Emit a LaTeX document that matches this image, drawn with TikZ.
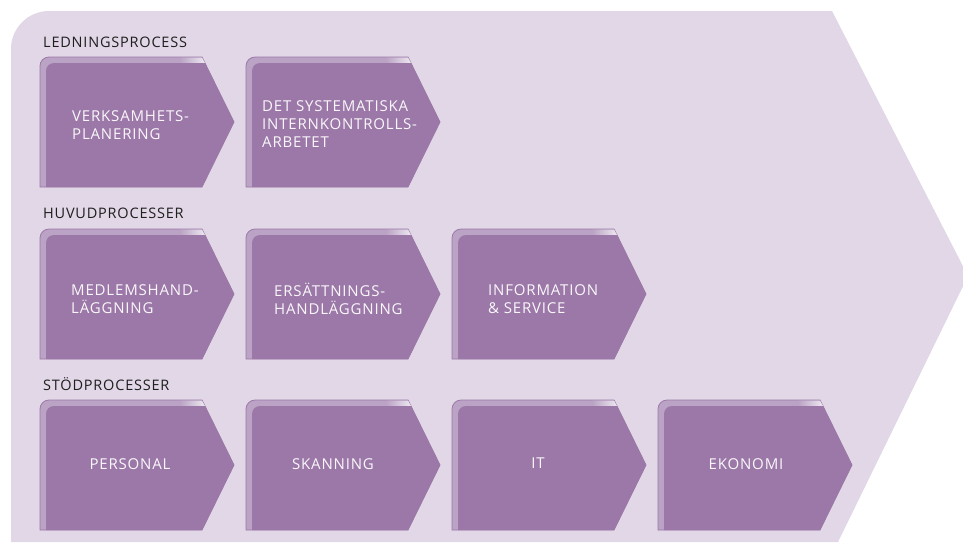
\documentclass[tikz,border=0pt]{standalone}
\usepackage{fontspec}
\setmainfont{Open Sans}[LetterSpace=5.5]
\definecolor{bg}{HTML}{E1D7E6}
\definecolor{box}{HTML}{9C78A8}
\definecolor{rim}{HTML}{BAA3C5}
\newcommand\chev[2]{%
	\filldraw[rim,draw=box,line width=0.8pt] (#1,#2+130) [rounded corners=9pt] -- (#1,#2) [sharp corners] -- (#1+162,#2) -- (#1+194,#2+65) -- (#1+162,#2+130) -- cycle;
	\shade[left color=rim,right color=rim!25!white] (#1+140,#2+0.6) -- (#1+162,#2+0.6) -- (#1+165,#2+6) -- (#1+140,#2+6) -- cycle;
	\fill[box] (#1+6,#2+130) [rounded corners=8pt] -- (#1+6,#2+6) [sharp corners] -- (#1+165,#2+6) -- (#1+194,#2+65) -- (#1+162,#2+130) -- cycle;
}
\begin{document}
\begin{tikzpicture}[x=1pt,y=-1pt,
		txt/.style={text=white!94!box,font=\fontsize{15}{18}\selectfont,align=left,anchor=west,inner sep=0pt},
		mid/.style={txt,align=center,anchor=center},
		lbl/.style={text=black!88,font=\fontsize{14.5}{16}\selectfont,anchor=west,inner sep=0pt}]
		\useasboundingbox (0,0) rectangle (963,542);
		\fill[bg] (11,542) [rounded corners=38pt] -- (11,11) [sharp corners] -- (832,11) -- (968,276) -- (838,542) -- cycle;
		\node (Le) at (43,42) [lbl] {LEDNINGSPROCESS};
		\chev{40}{57} \chev{246}{57}
		\node (Ve) at (72,125) [txt] {VERKSAMHETS-\\PLANERING};
		\node (De) at (262,124) [txt] {DET SYSTEMATISKA\\INTERNKONTROLLS-\\ARBETET};
		\node (Hv) at (43,213) [lbl] {HUVUDPROCESSER};
		\chev{40}{229} \chev{246}{229} \chev{452}{229}
		\node (Me) at (71,299) [txt] {MEDLEMSHAND-\\LÄGGNING};
		\node (Er) at (274,299) [txt] {ERSÄTTNINGS-\\HANDLÄGGNING};
		\node (In) at (488,299) [txt] {INFORMATION\\\& SERVICE};
		\node (St) at (43,384) [lbl] {STÖDPROCESSER};
		\chev{40}{400} \chev{246}{400} \chev{452}{400} \chev{658}{400}
		\node (Pe) at (130,464) [mid] {PERSONAL};
		\node (Sk) at (333,464) [mid] {SKANNING};
		\node (It) at (538,463) [mid] {IT};
		\node (Ek) at (746,464) [mid] {EKONOMI};
	\end{tikzpicture}
\end{document}
